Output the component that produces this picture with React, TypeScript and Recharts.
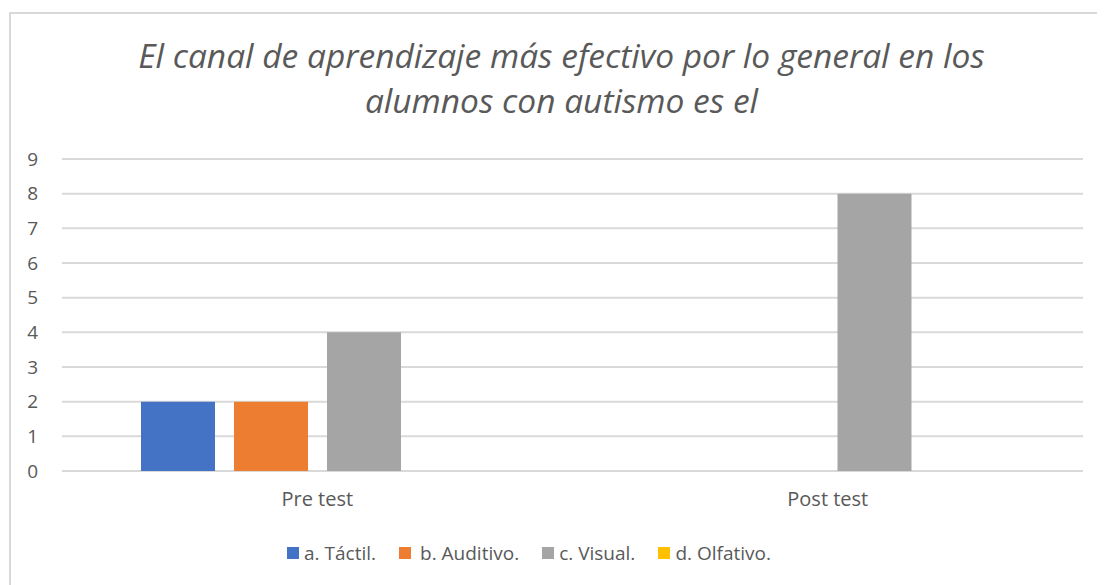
import React from 'react';
import { BarChart, Bar, XAxis, YAxis, CartesianGrid, Legend } from 'recharts';

const categories = ['Pre test', 'Post test'];
const tactil = [2, 0];
const auditivo = [2, 0];
const visual = [4, 8];
const olfativo = [0, 0];
const yTicks = [0, 1, 2, 3, 4, 5, 6, 7, 8, 9];
const seriesNames = ['a. Táctil.', 'b. Auditivo.', 'c. Visual.', 'd. Olfativo.'];
const seriesColors = ['#4472C4', '#ED7D31', '#A5A5A5', '#FFC000'];

const data = categories.map((c, i) => ({
  name: c,
  a: tactil[i],
  b: auditivo[i],
  c: visual[i],
  d: olfativo[i],
}));

const FONT = '"Open Sans", sans-serif';
const TEXT = '#595959';

const renderLegend = (props: any) => {
  const payload = props.payload || [];
  return (
    <div style={{ display: 'flex', justifyContent: 'center', alignItems: 'center', fontFamily: FONT, fontSize: 19, color: TEXT, lineHeight: '26px' }}>
      {payload.map((p: any, i: number) => (
        <div key={i} style={{ display: 'flex', alignItems: 'center', marginRight: i < payload.length - 1 ? 23 : 0 }}>
          <span style={{ display: 'inline-block', width: 12, height: 12, background: p.color, marginRight: i === 1 ? 9 : 5 }} />
          <span>{p.value}</span>
        </div>
      ))}
    </div>
  );
};

export default function App() {
  return (
    <div style={{ position: 'relative', width: 1097, height: 577, background: '#fff', overflow: 'hidden' }}>
      <div style={{ position: 'absolute', left: 1, top: 4, right: -10, bottom: -10, borderLeft: '2px solid #d9d9d9', borderTop: '2px solid #d9d9d9' }} />
      <div style={{ position: 'absolute', left: 0, top: 25, width: 1107, textAlign: 'center', fontFamily: FONT, fontStyle: 'italic', fontWeight: 400, fontSize: 33.5, lineHeight: '45px', color: TEXT }}>
        El canal de aprendizaje más efectivo por lo general en los
        <br />
        alumnos con autismo es el
      </div>
      <div style={{ position: 'absolute', left: 0, top: 0 }}>
        <BarChart width={1097} height={577} data={data} margin={{ top: 151, right: 22, left: 0, bottom: 58 }} barSize={74} barGap={19}>
          <CartesianGrid vertical={false} stroke="#d9d9d9" strokeWidth={2} />
          <XAxis dataKey="name" axisLine={false} tickLine={false} tick={{ fill: TEXT, fontSize: 20, fontFamily: FONT }} tickMargin={15} />
          <YAxis width={54} domain={[0, 9]} ticks={yTicks} interval={0} axisLine={false} tickLine={false} tick={{ fill: TEXT, fontSize: 19, fontFamily: FONT }} tickMargin={18} />
          <Legend content={renderLegend} wrapperStyle={{ left: 0, width: 1042, top: 532 }} />
          <Bar dataKey="a" name={seriesNames[0]} fill={seriesColors[0]} isAnimationActive={false} />
          <Bar dataKey="b" name={seriesNames[1]} fill={seriesColors[1]} isAnimationActive={false} />
          <Bar dataKey="c" name={seriesNames[2]} fill={seriesColors[2]} isAnimationActive={false} />
          <Bar dataKey="d" name={seriesNames[3]} fill={seriesColors[3]} isAnimationActive={false} />
        </BarChart>
      </div>
    </div>
  );
}
